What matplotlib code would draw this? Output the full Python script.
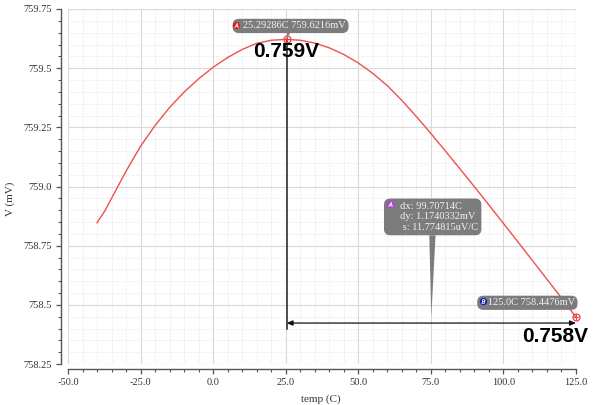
import matplotlib
matplotlib.use('Agg')
import matplotlib.pyplot as plt
from matplotlib.patches import Rectangle
from matplotlib.ticker import MultipleLocator
from matplotlib.transforms import offset_copy

# 读取的曲线数据 (temp in C, V in mV)
temp = [-40, -37.3, -35, -30, -25, -20, -15, -10, -5, 0, 5, 10, 15, 20, 25.29286,
        30, 35, 40, 45, 50, 55, 60, 65, 70, 75, 80, 85, 90, 95, 100, 105, 110, 115, 120, 125]
volt = [758.847, 758.897, 758.950, 759.065, 759.170, 759.258, 759.334, 759.399, 759.455,
        759.504, 759.545, 759.579, 759.605, 759.618, 759.6216,
        759.618, 759.606, 759.586, 759.558, 759.522, 759.478, 759.426, 759.364, 759.296,
        759.224, 759.150, 759.075, 758.999, 758.922, 758.844, 758.766, 758.687, 758.608,
        758.529, 758.4476]

xticks = [-50, -25, 0, 25, 50, 75, 100, 125]
xticklabels = ['-50.0', '-25.0', '0.0', '25.0', '50.0', '75.0', '100.0', '125.0']
yticks = [758.25, 758.5, 758.75, 759.0, 759.25, 759.5, 759.75]
yticklabels = ['758.25', '758.5', '758.75', '759.0', '759.25', '759.5', '759.75']

# 标记点
mark_a = (25.29286, 759.6216)
mark_b = (125.0, 758.4476)
label_a = '25.29286C 759.6216mV'
label_b = '125.0C 758.4476mV'
delta_lines = ['dx: 99.70714C', 'dy: 1.1740332mV', ' s: 11.774815uV/C']
big_a = '0.759V'
big_b = '0.758V'
arrow_level = 758.423
vline_bottom = 758.40

serif = 'Liberation Serif'
gray_box = '#7c7c7c'

fig = plt.figure(figsize=(5.94, 4.05), dpi=100)
ax = fig.add_axes([68 / 594, 41 / 405, 508 / 594, 355 / 405])

ax.set_xlim(-50, 125)
ax.set_ylim(758.25, 759.75)

# 网格
ax.xaxis.set_minor_locator(MultipleLocator(5))
ax.yaxis.set_minor_locator(MultipleLocator(0.05))
ax.grid(True, which='major', color='#d9d9d9', linewidth=0.8)
ax.grid(True, which='minor', color='#e6e6e6', linewidth=0.6, linestyle=(0, (1.5, 1.5)))
ax.set_axisbelow(True)

# 坐标轴样式
for s in ['top', 'right']:
    ax.spines[s].set_visible(False)
ax.spines['left'].set_position(('outward', 5))
ax.spines['bottom'].set_position(('outward', 3.6))
for s in ['left', 'bottom']:
    ax.spines[s].set_color('#555555')
    ax.spines[s].set_linewidth(1.0)
ax.add_patch(Rectangle((0, 0), 1, 1, transform=ax.transAxes, fill=False,
                       edgecolor='#d4d4d4', linewidth=0.8, zorder=0.5))

ax.set_xticks(xticks)
ax.set_xticklabels(xticklabels)
ax.set_yticks(yticks)
ax.set_yticklabels(yticklabels)
ax.tick_params(which='major', direction='out', length=3.5, width=0.9, color='#555555',
               labelsize=7.5, labelcolor='#333333', pad=3)
ax.tick_params(which='minor', direction='out', length=2.2, width=0.8, color='#555555')
for lab in ax.get_xticklabels() + ax.get_yticklabels():
    lab.set_fontfamily(serif)

ax.set_xlabel('temp (C)', fontsize=8, family=serif, color='#333333')
ax.set_ylabel('V (mV)', fontsize=8, family=serif, color='#333333')
ax.xaxis.set_label_coords(0.498, -0.087)
ax.yaxis.set_label_coords(-0.104, 0.465)

# 曲线
ax.plot(temp, volt, color='#ee5050', linewidth=1.0, zorder=3)

# 游标线
ax.plot([mark_a[0], mark_a[0]], [mark_a[1], vline_bottom], color='#222222', linewidth=1.1, zorder=4)
ax.annotate('', xy=(mark_a[0], arrow_level), xytext=(mark_b[0], arrow_level),
            arrowprops=dict(arrowstyle='<|-|>,head_length=0.35,head_width=0.15',
                            color='#111111', linewidth=0.9, shrinkA=0, shrinkB=0), zorder=4)

for m in (mark_a, mark_b):
    ax.plot(m[0], m[1], marker='o', mfc='none', mec='#ee4040', ms=5, mew=0.9, zorder=6, clip_on=False)
    ax.plot(m[0], m[1], marker='+', color='#ee4040', ms=5, mew=0.7, zorder=6, clip_on=False)


def icon(pt, dx, dy, letter, color, shape):
    # 小图标 (圆/方块 + 字母)，相对某点偏移若干 points
    tr = offset_copy(ax.transData, fig=fig, x=dx, y=dy, units='points')
    ax.plot(pt[0], pt[1], marker=shape, ms=5.2, mfc=color, mec='none', transform=tr,
            zorder=8, clip_on=False)
    ax.plot(pt[0], pt[1], marker='$%s$' % letter, ms=3.0, mfc='white', mec='white', mew=0.2,
            transform=tr, zorder=9, clip_on=False)


# 标签 A
ax.annotate('   ' + label_a, xy=mark_a, xytext=(2.9, 9.7), textcoords='offset points',
            ha='center', va='center', fontsize=7.5, family=serif, color='#f2f2f2',
            bbox=dict(boxstyle='round,pad=0.25,rounding_size=0.6', fc=gray_box, ec='none'),
            arrowprops=dict(arrowstyle='wedge,tail_width=0.35', fc=gray_box, ec='none',
                            shrinkA=0, shrinkB=2), zorder=7)
icon(mark_a, -36.5, 10.0, 'A', '#d42020', 'o')

# 标签 B
ax.annotate('   ' + label_b, xy=mark_b, xytext=(-35, 10.4), textcoords='offset points',
            ha='center', va='center', fontsize=7.5, family=serif, color='#f2f2f2',
            bbox=dict(boxstyle='round,pad=0.25,rounding_size=0.6', fc=gray_box, ec='none'),
            zorder=7, annotation_clip=False)
icon(mark_b, -67, 11.5, 'B', '#1a1aa8', 'o')

# 差值框
tip = ((mark_a[0] + mark_b[0]) / 2, 758.449)
ax.annotate('\n'.join('     ' + s for s in delta_lines), xy=tip, xytext=(1, 72),
            textcoords='offset points', ha='center', va='center', multialignment='left',
            fontsize=7.5, family=serif, color='#f2f2f2', linespacing=1.25,
            bbox=dict(boxstyle='round,pad=0.3,rounding_size=0.6', fc=gray_box, ec='none'),
            arrowprops=dict(arrowstyle='wedge,tail_width=0.6', fc=gray_box, ec='none',
                            shrinkA=0, shrinkB=0), zorder=7)
icon(tip, -29.5, 81.5, 'A', '#a64fc0', 's')

# 大字电压
ax.annotate(big_a, xy=mark_a, xytext=(0, -9), textcoords='offset points', ha='center', va='center',
            fontsize=15, fontweight='bold', family='Liberation Sans', color='black', zorder=8)
ax.annotate(big_b, xy=mark_b, xytext=(-15, -14), textcoords='offset points', ha='center', va='center',
            fontsize=15, fontweight='bold', family='Liberation Sans', color='black', zorder=8,
            annotation_clip=False)

fig.savefig('out.png', dpi=100)
